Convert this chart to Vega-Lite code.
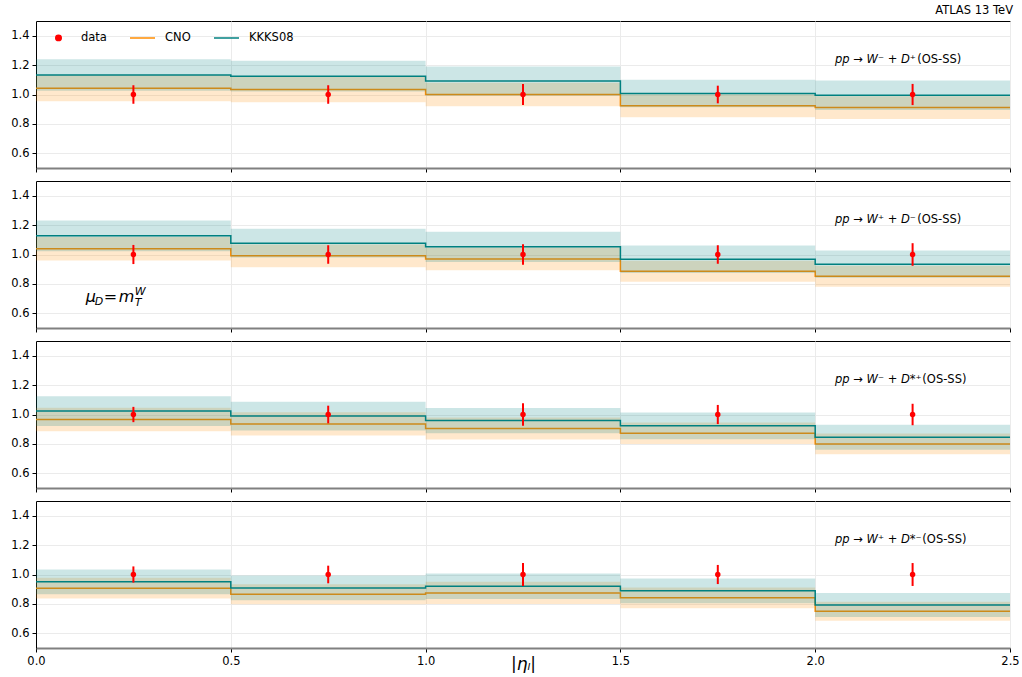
{
"$schema":"https://vega.github.io/schema/vega-lite/v6.json",
"padding":{"left":10,"top":4,"right":12,"bottom":0},
"background":"white",
"config":{"font":"DejaVu Sans","view":{"stroke":"black","strokeWidth":1},
"axis":{"labelFont":"DejaVu Sans","labelFontSize":11.5,"labelColor":"black","tickColor":"black","tickSize":4,"tickWidth":1,"domainColor":"black","gridColor":"#ebebeb","gridWidth":1,"labelPadding":3,"titleFont":"DejaVu Sans","titleFontWeight":"normal","titleColor":"black","labelFlush":false,"labelOverlap":false},
"concat":{"spacing":7},
"text":{"font":"DejaVu Sans","color":"black"}},
"resolve":{"scale":{"color":"independent"},"legend":{"color":"independent"}},
"datasets":{
"steps":[
{"p":1,"s":"CNO","x":0,"v":1.043,"lo":0.954,"hi":1.132},
{"p":1,"s":"CNO","x":0.5,"v":1.034,"lo":0.947,"hi":1.121},
{"p":1,"s":"CNO","x":1,"v":1.0,"lo":0.92,"hi":1.08},
{"p":1,"s":"CNO","x":1.5,"v":0.923,"lo":0.845,"hi":1.001},
{"p":1,"s":"CNO","x":2,"v":0.911,"lo":0.834,"hi":0.988},
{"p":1,"s":"CNO","x":2.5,"v":0.911,"lo":0.834,"hi":0.988},
{"p":1,"s":"KKKS08","x":0,"v":1.132,"lo":1.025,"hi":1.239},
{"p":1,"s":"KKKS08","x":0.5,"v":1.125,"lo":1.02,"hi":1.23},
{"p":1,"s":"KKKS08","x":1,"v":1.091,"lo":0.991,"hi":1.191},
{"p":1,"s":"KKKS08","x":1.5,"v":1.007,"lo":0.914,"hi":1.1},
{"p":1,"s":"KKKS08","x":2,"v":0.995,"lo":0.894,"hi":1.096},
{"p":1,"s":"KKKS08","x":2.5,"v":0.995,"lo":0.894,"hi":1.096},
{"p":2,"s":"CNO","x":0,"v":1.039,"lo":0.959,"hi":1.119},
{"p":2,"s":"CNO","x":0.5,"v":0.991,"lo":0.914,"hi":1.068},
{"p":2,"s":"CNO","x":1,"v":0.97,"lo":0.893,"hi":1.047},
{"p":2,"s":"CNO","x":1.5,"v":0.886,"lo":0.814,"hi":0.958},
{"p":2,"s":"CNO","x":2,"v":0.852,"lo":0.78,"hi":0.924},
{"p":2,"s":"CNO","x":2.5,"v":0.852,"lo":0.78,"hi":0.924},
{"p":2,"s":"KKKS08","x":0,"v":1.127,"lo":1.022,"hi":1.232},
{"p":2,"s":"KKKS08","x":0.5,"v":1.077,"lo":0.979,"hi":1.175},
{"p":2,"s":"KKKS08","x":1,"v":1.052,"lo":0.949,"hi":1.155},
{"p":2,"s":"KKKS08","x":1.5,"v":0.968,"lo":0.875,"hi":1.061},
{"p":2,"s":"KKKS08","x":2,"v":0.934,"lo":0.841,"hi":1.027},
{"p":2,"s":"KKKS08","x":2.5,"v":0.934,"lo":0.841,"hi":1.027},
{"p":3,"s":"CNO","x":0,"v":0.966,"lo":0.886,"hi":1.046},
{"p":3,"s":"CNO","x":0.5,"v":0.936,"lo":0.857,"hi":1.015},
{"p":3,"s":"CNO","x":1,"v":0.905,"lo":0.83,"hi":0.98},
{"p":3,"s":"CNO","x":1.5,"v":0.873,"lo":0.8,"hi":0.946},
{"p":3,"s":"CNO","x":2,"v":0.8,"lo":0.73,"hi":0.87},
{"p":3,"s":"CNO","x":2.5,"v":0.8,"lo":0.73,"hi":0.87},
{"p":3,"s":"KKKS08","x":0,"v":1.023,"lo":0.921,"hi":1.125},
{"p":3,"s":"KKKS08","x":0.5,"v":0.989,"lo":0.892,"hi":1.086},
{"p":3,"s":"KKKS08","x":1,"v":0.959,"lo":0.873,"hi":1.045},
{"p":3,"s":"KKKS08","x":1.5,"v":0.923,"lo":0.832,"hi":1.014},
{"p":3,"s":"KKKS08","x":2,"v":0.845,"lo":0.76,"hi":0.93},
{"p":3,"s":"KKKS08","x":2.5,"v":0.845,"lo":0.76,"hi":0.93},
{"p":4,"s":"CNO","x":0,"v":0.907,"lo":0.836,"hi":0.978},
{"p":4,"s":"CNO","x":0.5,"v":0.866,"lo":0.798,"hi":0.934},
{"p":4,"s":"CNO","x":1,"v":0.875,"lo":0.8,"hi":0.95},
{"p":4,"s":"CNO","x":1.5,"v":0.841,"lo":0.77,"hi":0.912},
{"p":4,"s":"CNO","x":2,"v":0.75,"lo":0.686,"hi":0.814},
{"p":4,"s":"CNO","x":2.5,"v":0.75,"lo":0.686,"hi":0.814},
{"p":4,"s":"KKKS08","x":0,"v":0.95,"lo":0.866,"hi":1.034},
{"p":4,"s":"KKKS08","x":0.5,"v":0.909,"lo":0.825,"hi":0.993},
{"p":4,"s":"KKKS08","x":1,"v":0.92,"lo":0.833,"hi":1.007},
{"p":4,"s":"KKKS08","x":1.5,"v":0.889,"lo":0.805,"hi":0.973},
{"p":4,"s":"KKKS08","x":2,"v":0.793,"lo":0.711,"hi":0.875},
{"p":4,"s":"KKKS08","x":2.5,"v":0.793,"lo":0.711,"hi":0.875}
],
"pts":[
{"p":1,"s":"data","x":0.25,"y":1,"lo":0.937,"hi":1.063},
{"p":1,"s":"data","x":0.75,"y":1,"lo":0.937,"hi":1.063},
{"p":1,"s":"data","x":1.25,"y":1,"lo":0.928,"hi":1.072},
{"p":1,"s":"data","x":1.75,"y":1,"lo":0.94,"hi":1.06},
{"p":1,"s":"data","x":2.25,"y":1,"lo":0.928,"hi":1.072},
{"p":2,"s":"data","x":0.25,"y":1,"lo":0.935,"hi":1.065},
{"p":2,"s":"data","x":0.75,"y":1,"lo":0.937,"hi":1.063},
{"p":2,"s":"data","x":1.25,"y":1,"lo":0.93,"hi":1.07},
{"p":2,"s":"data","x":1.75,"y":1,"lo":0.937,"hi":1.063},
{"p":2,"s":"data","x":2.25,"y":1,"lo":0.923,"hi":1.077},
{"p":3,"s":"data","x":0.25,"y":1,"lo":0.948,"hi":1.052},
{"p":3,"s":"data","x":0.75,"y":1,"lo":0.94,"hi":1.06},
{"p":3,"s":"data","x":1.25,"y":1,"lo":0.923,"hi":1.077},
{"p":3,"s":"data","x":1.75,"y":1,"lo":0.935,"hi":1.065},
{"p":3,"s":"data","x":2.25,"y":1,"lo":0.927,"hi":1.073},
{"p":4,"s":"data","x":0.25,"y":1,"lo":0.945,"hi":1.055},
{"p":4,"s":"data","x":0.75,"y":1,"lo":0.94,"hi":1.06},
{"p":4,"s":"data","x":1.25,"y":1,"lo":0.922,"hi":1.078},
{"p":4,"s":"data","x":1.75,"y":1,"lo":0.935,"hi":1.065},
{"p":4,"s":"data","x":2.25,"y":1,"lo":0.922,"hi":1.078}
]
},
"vconcat":[
{
"width":974,"height":147,
"title":{"text":"ATLAS 13 TeV","anchor":"end","fontSize":11.5,"fontWeight":"normal","font":"DejaVu Sans","color":"black","offset":5},
"layer":[
{"data":{"name":"steps"},"transform":[{"filter":"datum.p==1 && datum.s=='CNO'"}],"mark":{"type":"area","interpolate":"step-after","opacity":0.2},
"encoding":{"x":{"field":"x","type":"quantitative","scale":{"domain":[0,2.5],"nice":false},"axis":{"values":[0,0.5,1,1.5,2,2.5],"tickCount":6,"labels":false,"title":null,"domainColor":"#808080","domainWidth":2,"grid":true}},
"y":{"field":"lo","type":"quantitative","scale":{"domain":[0.5,1.5],"nice":false,"zero":false},"axis":{"values":[0.6,0.8,1.0,1.2,1.4],"tickCount":5,"format":".1f","title":null,"grid":true,"labelOverlap":false}},"y2":{"field":"hi"},
"color":{"field":"s","type":"nominal","scale":{"domain":["data","CNO","KKKS08"],"range":["#ff0000","#ff8c00","#008080"]},
"legend":{"orient":"none","legendX":9,"legendY":3,"direction":"horizontal","title":null,"padding":0,"labelFontSize":11.5,"labelFont":"DejaVu Sans","labelColor":"black","labelOffset":9,"columnPadding":20,"symbolSize":625,"symbolStrokeWidth":1.5,"symbolOpacity":1,
"encode":{"symbols":{"update":{
"shape":{"signal":"datum.value === 'data' ? 'circle' : 'stroke'"},
"size":{"signal":"datum.value === 'data' ? 30 : 625"},
"fill":{"signal":"datum.value === 'data' ? '#ff0000' : 'transparent'"},
"stroke":{"signal":"datum.value === 'data' ? 'transparent' : (datum.value === 'CNO' ? '#ff8c00' : '#008080')"},
"strokeWidth":{"value":1.5},"opacity":{"value":1},"fillOpacity":{"value":1},"strokeOpacity":{"value":1}}}}}}}},
{"data":{"name":"steps"},"transform":[{"filter":"datum.p==1 && datum.s=='CNO'"}],"mark":{"type":"line","interpolate":"step-after","strokeWidth":1.5},"encoding":{"x":{"field":"x","type":"quantitative"},"y":{"field":"v","type":"quantitative","title":null},"color":{"field":"s","type":"nominal"}}},
{"data":{"name":"steps"},"transform":[{"filter":"datum.p==1 && datum.s=='KKKS08'"}],"mark":{"type":"area","interpolate":"step-after","opacity":0.2},"encoding":{"x":{"field":"x","type":"quantitative"},"y":{"field":"lo","type":"quantitative","title":null},"y2":{"field":"hi"},"color":{"field":"s","type":"nominal"}}},
{"data":{"name":"steps"},"transform":[{"filter":"datum.p==1 && datum.s=='KKKS08'"}],"mark":{"type":"line","interpolate":"step-after","strokeWidth":1.5},"encoding":{"x":{"field":"x","type":"quantitative"},"y":{"field":"v","type":"quantitative","title":null},"color":{"field":"s","type":"nominal"}}},
{"data":{"name":"pts"},"transform":[{"filter":"datum.p==1"}],"mark":{"type":"rule","strokeWidth":2},"encoding":{"x":{"field":"x","type":"quantitative"},"y":{"field":"lo","type":"quantitative","title":null},"y2":{"field":"hi"},"color":{"field":"s","type":"nominal"}}},
{"data":{"name":"pts"},"transform":[{"filter":"datum.p==1"}],"mark":{"type":"point","filled":true,"size":30,"opacity":1},"encoding":{"x":{"field":"x","type":"quantitative"},"y":{"field":"y","type":"quantitative","title":null},"color":{"field":"s","type":"nominal"}}},
{"data":{"values":[{"t":"pp → W⁻ + D⁺"}]},"mark":{"type":"text","fontStyle":"italic","fontSize":11.5,"align":"left","baseline":"middle"},"encoding":{"x":{"datum":2.051,"type":"quantitative"},"y":{"datum":1.232,"type":"quantitative"},"text":{"field":"t"}}},
{"data":{"values":[{"t":"(OS-SS)"}]},"mark":{"type":"text","fontSize":11.5,"align":"left","baseline":"middle"},"encoding":{"x":{"datum":2.262,"type":"quantitative"},"y":{"datum":1.232,"type":"quantitative"},"text":{"field":"t"}}}
]
},
{
"width":974,"height":147,
"layer":[
{"data":{"name":"steps"},"transform":[{"filter":"datum.p==2 && datum.s=='CNO'"}],"mark":{"type":"area","interpolate":"step-after","opacity":0.2,"color":"#ff8c00"},
"encoding":{"x":{"field":"x","type":"quantitative","scale":{"domain":[0,2.5],"nice":false},"axis":{"values":[0,0.5,1,1.5,2,2.5],"tickCount":6,"labels":false,"title":null,"domainColor":"#808080","domainWidth":2,"grid":true}},
"y":{"field":"lo","type":"quantitative","scale":{"domain":[0.5,1.5],"nice":false,"zero":false},"axis":{"values":[0.6,0.8,1.0,1.2,1.4],"tickCount":5,"format":".1f","title":null,"grid":true,"labelOverlap":false}},"y2":{"field":"hi"}}},
{"data":{"name":"steps"},"transform":[{"filter":"datum.p==2 && datum.s=='CNO'"}],"mark":{"type":"line","interpolate":"step-after","strokeWidth":1.5,"color":"#ff8c00"},"encoding":{"x":{"field":"x","type":"quantitative"},"y":{"field":"v","type":"quantitative","title":null}}},
{"data":{"name":"steps"},"transform":[{"filter":"datum.p==2 && datum.s=='KKKS08'"}],"mark":{"type":"area","interpolate":"step-after","opacity":0.2,"color":"#008080"},"encoding":{"x":{"field":"x","type":"quantitative"},"y":{"field":"lo","type":"quantitative","title":null},"y2":{"field":"hi"}}},
{"data":{"name":"steps"},"transform":[{"filter":"datum.p==2 && datum.s=='KKKS08'"}],"mark":{"type":"line","interpolate":"step-after","strokeWidth":1.5,"color":"#008080"},"encoding":{"x":{"field":"x","type":"quantitative"},"y":{"field":"v","type":"quantitative","title":null}}},
{"data":{"name":"pts"},"transform":[{"filter":"datum.p==2"}],"mark":{"type":"rule","strokeWidth":2,"color":"#ff0000"},"encoding":{"x":{"field":"x","type":"quantitative"},"y":{"field":"lo","type":"quantitative","title":null},"y2":{"field":"hi"}}},
{"data":{"name":"pts"},"transform":[{"filter":"datum.p==2"}],"mark":{"type":"point","filled":true,"size":30,"opacity":1,"color":"#ff0000"},"encoding":{"x":{"field":"x","type":"quantitative"},"y":{"field":"y","type":"quantitative","title":null}}},
{"data":{"values":[{"t":"pp → W⁺ + D⁻"}]},"mark":{"type":"text","fontStyle":"italic","fontSize":11.5,"align":"left","baseline":"middle"},"encoding":{"x":{"datum":2.051,"type":"quantitative"},"y":{"datum":1.232,"type":"quantitative"},"text":{"field":"t"}}},
{"data":{"values":[{"t":"(OS-SS)"}]},"mark":{"type":"text","fontSize":11.5,"align":"left","baseline":"middle"},"encoding":{"x":{"datum":2.262,"type":"quantitative"},"y":{"datum":1.232,"type":"quantitative"},"text":{"field":"t"}}},
{"data":{"values":[{"t":"μ"}]},"mark":{"type":"text","fontStyle":"italic","fontSize":16,"align":"left","baseline":"alphabetic"},"encoding":{"x":{"datum":0.128,"type":"quantitative"},"y":{"datum":0.679,"type":"quantitative"},"text":{"field":"t"}}},
{"data":{"values":[{"t":"D"}]},"mark":{"type":"text","fontStyle":"italic","fontSize":11,"align":"left","baseline":"alphabetic","dx":9,"dy":3},"encoding":{"x":{"datum":0.128,"type":"quantitative"},"y":{"datum":0.679,"type":"quantitative"},"text":{"field":"t"}}},
{"data":{"values":[{"t":"="}]},"mark":{"type":"text","fontSize":16,"align":"left","baseline":"alphabetic","dx":18},"encoding":{"x":{"datum":0.128,"type":"quantitative"},"y":{"datum":0.679,"type":"quantitative"},"text":{"field":"t"}}},
{"data":{"values":[{"t":"m"}]},"mark":{"type":"text","fontStyle":"italic","fontSize":16,"align":"left","baseline":"alphabetic","dx":33},"encoding":{"x":{"datum":0.128,"type":"quantitative"},"y":{"datum":0.679,"type":"quantitative"},"text":{"field":"t"}}},
{"data":{"values":[{"t":"W"}]},"mark":{"type":"text","fontStyle":"italic","fontSize":11,"align":"left","baseline":"alphabetic","dx":49,"dy":-7},"encoding":{"x":{"datum":0.128,"type":"quantitative"},"y":{"datum":0.679,"type":"quantitative"},"text":{"field":"t"}}},
{"data":{"values":[{"t":"T"}]},"mark":{"type":"text","fontStyle":"italic","fontSize":11,"align":"left","baseline":"alphabetic","dx":49,"dy":4},"encoding":{"x":{"datum":0.128,"type":"quantitative"},"y":{"datum":0.679,"type":"quantitative"},"text":{"field":"t"}}}
]
},
{
"width":974,"height":147,
"layer":[
{"data":{"name":"steps"},"transform":[{"filter":"datum.p==3 && datum.s=='CNO'"}],"mark":{"type":"area","interpolate":"step-after","opacity":0.2,"color":"#ff8c00"},
"encoding":{"x":{"field":"x","type":"quantitative","scale":{"domain":[0,2.5],"nice":false},"axis":{"values":[0,0.5,1,1.5,2,2.5],"tickCount":6,"labels":false,"title":null,"domainColor":"#808080","domainWidth":2,"grid":true}},
"y":{"field":"lo","type":"quantitative","scale":{"domain":[0.5,1.5],"nice":false,"zero":false},"axis":{"values":[0.6,0.8,1.0,1.2,1.4],"tickCount":5,"format":".1f","title":null,"grid":true,"labelOverlap":false}},"y2":{"field":"hi"}}},
{"data":{"name":"steps"},"transform":[{"filter":"datum.p==3 && datum.s=='CNO'"}],"mark":{"type":"line","interpolate":"step-after","strokeWidth":1.5,"color":"#ff8c00"},"encoding":{"x":{"field":"x","type":"quantitative"},"y":{"field":"v","type":"quantitative","title":null}}},
{"data":{"name":"steps"},"transform":[{"filter":"datum.p==3 && datum.s=='KKKS08'"}],"mark":{"type":"area","interpolate":"step-after","opacity":0.2,"color":"#008080"},"encoding":{"x":{"field":"x","type":"quantitative"},"y":{"field":"lo","type":"quantitative","title":null},"y2":{"field":"hi"}}},
{"data":{"name":"steps"},"transform":[{"filter":"datum.p==3 && datum.s=='KKKS08'"}],"mark":{"type":"line","interpolate":"step-after","strokeWidth":1.5,"color":"#008080"},"encoding":{"x":{"field":"x","type":"quantitative"},"y":{"field":"v","type":"quantitative","title":null}}},
{"data":{"name":"pts"},"transform":[{"filter":"datum.p==3"}],"mark":{"type":"rule","strokeWidth":2,"color":"#ff0000"},"encoding":{"x":{"field":"x","type":"quantitative"},"y":{"field":"lo","type":"quantitative","title":null},"y2":{"field":"hi"}}},
{"data":{"name":"pts"},"transform":[{"filter":"datum.p==3"}],"mark":{"type":"point","filled":true,"size":30,"opacity":1,"color":"#ff0000"},"encoding":{"x":{"field":"x","type":"quantitative"},"y":{"field":"y","type":"quantitative","title":null}}},
{"data":{"values":[{"t":"pp → W⁻ + D*⁺"}]},"mark":{"type":"text","fontStyle":"italic","fontSize":11.5,"align":"left","baseline":"middle"},"encoding":{"x":{"datum":2.051,"type":"quantitative"},"y":{"datum":1.232,"type":"quantitative"},"text":{"field":"t"}}},
{"data":{"values":[{"t":"(OS-SS)"}]},"mark":{"type":"text","fontSize":11.5,"align":"left","baseline":"middle"},"encoding":{"x":{"datum":2.275,"type":"quantitative"},"y":{"datum":1.232,"type":"quantitative"},"text":{"field":"t"}}}
]
},
{
"width":974,"height":147,
"layer":[
{"data":{"name":"steps"},"transform":[{"filter":"datum.p==4 && datum.s=='CNO'"}],"mark":{"type":"area","interpolate":"step-after","opacity":0.2,"color":"#ff8c00"},
"encoding":{"x":{"field":"x","type":"quantitative","scale":{"domain":[0,2.5],"nice":false},"axis":{"values":[0,0.5,1,1.5,2,2.5],"tickCount":6,"format":".1f","title":"|ηₗ|","titleFontSize":17,"titleFontStyle":"italic","titlePadding":-10,"domainColor":"#808080","domainWidth":2,"grid":true,"labelOverlap":false}},
"y":{"field":"lo","type":"quantitative","scale":{"domain":[0.5,1.5],"nice":false,"zero":false},"axis":{"values":[0.6,0.8,1.0,1.2,1.4],"tickCount":5,"format":".1f","title":null,"grid":true,"labelOverlap":false}},"y2":{"field":"hi"}}},
{"data":{"name":"steps"},"transform":[{"filter":"datum.p==4 && datum.s=='CNO'"}],"mark":{"type":"line","interpolate":"step-after","strokeWidth":1.5,"color":"#ff8c00"},"encoding":{"x":{"field":"x","type":"quantitative"},"y":{"field":"v","type":"quantitative","title":null}}},
{"data":{"name":"steps"},"transform":[{"filter":"datum.p==4 && datum.s=='KKKS08'"}],"mark":{"type":"area","interpolate":"step-after","opacity":0.2,"color":"#008080"},"encoding":{"x":{"field":"x","type":"quantitative"},"y":{"field":"lo","type":"quantitative","title":null},"y2":{"field":"hi"}}},
{"data":{"name":"steps"},"transform":[{"filter":"datum.p==4 && datum.s=='KKKS08'"}],"mark":{"type":"line","interpolate":"step-after","strokeWidth":1.5,"color":"#008080"},"encoding":{"x":{"field":"x","type":"quantitative"},"y":{"field":"v","type":"quantitative","title":null}}},
{"data":{"name":"pts"},"transform":[{"filter":"datum.p==4"}],"mark":{"type":"rule","strokeWidth":2,"color":"#ff0000"},"encoding":{"x":{"field":"x","type":"quantitative"},"y":{"field":"lo","type":"quantitative","title":null},"y2":{"field":"hi"}}},
{"data":{"name":"pts"},"transform":[{"filter":"datum.p==4"}],"mark":{"type":"point","filled":true,"size":30,"opacity":1,"color":"#ff0000"},"encoding":{"x":{"field":"x","type":"quantitative"},"y":{"field":"y","type":"quantitative","title":null}}},
{"data":{"values":[{"t":"pp → W⁺ + D*⁻"}]},"mark":{"type":"text","fontStyle":"italic","fontSize":11.5,"align":"left","baseline":"middle"},"encoding":{"x":{"datum":2.051,"type":"quantitative"},"y":{"datum":1.232,"type":"quantitative"},"text":{"field":"t"}}},
{"data":{"values":[{"t":"(OS-SS)"}]},"mark":{"type":"text","fontSize":11.5,"align":"left","baseline":"middle"},"encoding":{"x":{"datum":2.275,"type":"quantitative"},"y":{"datum":1.232,"type":"quantitative"},"text":{"field":"t"}}}
]
}
]
}
